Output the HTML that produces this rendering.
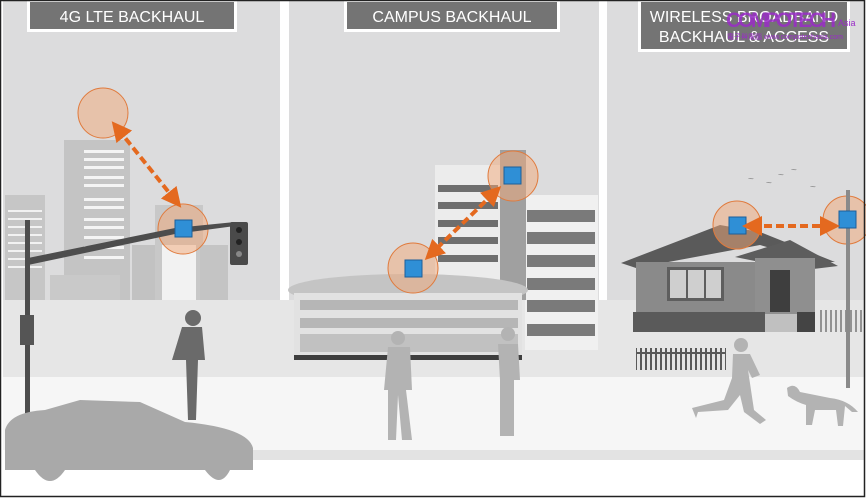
<!DOCTYPE html>
<html><head><style>
html,body{margin:0;padding:0;background:#fff}
svg{display:block}
text{font-family:"Liberation Sans",sans-serif}
</style></head><body>
<svg width="866" height="499" viewBox="0 0 866 499" xmlns="http://www.w3.org/2000/svg">
<defs>
<marker id="ah" markerWidth="5" markerHeight="5" refX="2.5" refY="2.5" orient="auto-start-reverse" markerUnits="strokeWidth"><path d="M0,0 L5,2.5 L0,5 z" fill="#e4691f"/></marker>
<pattern id="fence" width="5" height="22" patternUnits="userSpaceOnUse"><rect width="2" height="22" fill="#5a5a5a"/></pattern>
</defs>
<rect width="866" height="499" fill="#fff"/>
<rect x="3" y="0" width="277" height="305" fill="#dcdcdd"/>
<rect x="289" y="0" width="310" height="305" fill="#dcdcdd"/>
<rect x="607" y="0" width="257" height="305" fill="#dcdcdd"/>
<rect x="3" y="300" width="861" height="78" fill="#e6e6e6"/>
<rect x="3" y="377" width="861" height="73" fill="#f6f6f6"/>
<rect x="150" y="450" width="714" height="10" fill="#e3e3e3"/>
<rect x="27" y="1" width="210" height="31" fill="#fff"/>
<rect x="30" y="2" width="204" height="27" fill="#747474"/>
<text x="132" y="22" font-size="16" fill="#fff" text-anchor="middle">4G LTE BACKHAUL</text>
<rect x="344" y="1" width="216" height="31" fill="#fff"/>
<rect x="347" y="2" width="210" height="27" fill="#747474"/>
<text x="452" y="22" font-size="16" fill="#fff" text-anchor="middle">CAMPUS BACKHAUL</text>
<rect x="638" y="1" width="212" height="51" fill="#fff"/>
<rect x="641" y="2" width="206" height="47" fill="#747474"/>
<text x="744" y="22" font-size="16" fill="#fff" text-anchor="middle">WIRELESS BROADBAND</text>
<text x="744" y="42" font-size="16" fill="#fff" text-anchor="middle">BACKHAUL &amp; ACCESS</text>
<text x="726" y="27" font-size="21" font-weight="bold" fill="#9a2cc8" opacity="0.85" textLength="110">COMPOTECH</text>
<text x="838" y="26" font-size="9" fill="#9a2cc8">Asia</text>
<text x="727" y="39" font-size="7" fill="#9a2cc8">電子與電腦 www.compotechasia.com</text>

<rect x="5" y="195" width="40" height="105" fill="#c6c6c6"/>
<g fill="#f2f2f2"><rect x="8" y="210" width="34" height="2"/><rect x="8" y="218" width="34" height="2"/><rect x="8" y="226" width="34" height="2"/><rect x="8" y="234" width="34" height="2"/><rect x="8" y="242" width="34" height="2"/><rect x="8" y="250" width="34" height="2"/><rect x="8" y="258" width="34" height="2"/><rect x="8" y="266" width="34" height="2"/></g>
<rect x="64" y="140" width="66" height="160" fill="#c4c4c4"/>
<g fill="#f4f4f4">
<rect x="84" y="150" width="40" height="3"/><rect x="84" y="158" width="40" height="3"/><rect x="84" y="166" width="40" height="3"/><rect x="84" y="176" width="40" height="3"/><rect x="84" y="184" width="40" height="3"/><rect x="84" y="198" width="40" height="3"/><rect x="84" y="206" width="40" height="3"/><rect x="84" y="218" width="40" height="3"/><rect x="84" y="226" width="40" height="3"/><rect x="84" y="236" width="40" height="3"/><rect x="84" y="246" width="40" height="3"/><rect x="84" y="256" width="40" height="3"/></g>
<rect x="50" y="275" width="70" height="25" fill="#c9c9c9"/>
<rect x="132" y="245" width="30" height="55" fill="#c2c2c2"/>
<rect x="155" y="205" width="48" height="95" fill="#c8c8c8"/>
<rect x="162" y="245" width="34" height="55" fill="#f2f2f2"/>
<rect x="200" y="245" width="28" height="55" fill="#c4c4c4"/>
<circle cx="103" cy="113" r="25" fill="#f2a878" fill-opacity="0.5" stroke="#e07a3c"/>
<circle cx="183" cy="229" r="25" fill="#f2a878" fill-opacity="0.5" stroke="#e07a3c"/>
<rect x="25" y="220" width="5" height="200" fill="#4d4d4d"/>
<path d="M28,258 L175,228 L235,222 L235,226 L175,234 L28,265 z" fill="#4d4d4d"/>
<rect x="230" y="222" width="18" height="43" rx="2" fill="#4a4a4a"/>
<circle cx="239" cy="230" r="3" fill="#222"/><circle cx="239" cy="242" r="3" fill="#222"/><circle cx="239" cy="254" r="3" fill="#888"/>
<rect x="20" y="315" width="14" height="30" fill="#555"/>
<rect x="175" y="220" width="17" height="17" fill="#2f8fd6" stroke="#1c5f99"/>
<line x1="118" y1="129" x2="175" y2="200" stroke="#e4691f" stroke-width="4" stroke-dasharray="8,4" marker-start="url(#ah)" marker-end="url(#ah)"/>

<rect x="525" y="195" width="73" height="155" fill="#f0f0f0"/>
<g fill="#7a7a7a"><rect x="527" y="210" width="68" height="12"/><rect x="527" y="232" width="68" height="12"/><rect x="527" y="255" width="68" height="12"/><rect x="527" y="278" width="68" height="12"/><rect x="527" y="300" width="68" height="12"/><rect x="527" y="324" width="68" height="12"/></g>
<rect x="435" y="165" width="70" height="135" fill="#ececec"/>
<g fill="#6e6e6e"><rect x="438" y="185" width="60" height="7"/><rect x="438" y="202" width="60" height="7"/><rect x="438" y="220" width="60" height="7"/><rect x="438" y="237" width="60" height="7"/><rect x="438" y="255" width="60" height="7"/></g>
<rect x="500" y="150" width="26" height="150" fill="#a0a0a0"/>
<ellipse cx="408" cy="290" rx="120" ry="16" fill="#c4c4c4"/>
<rect x="294" y="293" width="228" height="62" fill="#e2e2e2"/>
<g fill="#9a9a9a">
<rect x="300" y="300" width="218" height="10" opacity="0.6"/><rect x="300" y="318" width="218" height="10" opacity="0.6"/><rect x="300" y="334" width="218" height="18" opacity="0.45"/></g>
<rect x="294" y="355" width="228" height="5" fill="#3e3e3e"/>
<circle cx="413" cy="268" r="25" fill="#f2a878" fill-opacity="0.5" stroke="#e07a3c"/>
<circle cx="513" cy="176" r="25" fill="#f2a878" fill-opacity="0.5" stroke="#e07a3c"/>
<rect x="405" y="260" width="17" height="17" fill="#2f8fd6" stroke="#1c5f99"/>
<rect x="504" y="167" width="17" height="17" fill="#2f8fd6" stroke="#1c5f99"/>
<line x1="494" y1="193" x2="432" y2="253" stroke="#e4691f" stroke-width="4" stroke-dasharray="8,4" marker-start="url(#ah)" marker-end="url(#ah)"/>

<path d="M621,263 L720,225 L760,232 L835,262 L820,262 L760,245 L636,268 z" fill="#5a5a5a"/>
<rect x="636" y="262" width="125" height="52" fill="#8a8a8a"/>
<path d="M735,257 L790,240 L838,266 L805,270 L760,262 z" fill="#5d5d5d"/>
<rect x="755" y="258" width="60" height="56" fill="#8f8f8f"/>
<rect x="667" y="267" width="57" height="34" fill="#5e5e5e"/>
<rect x="670" y="270" width="16" height="28" fill="#cfcfcf"/><rect x="688" y="270" width="16" height="28" fill="#cfcfcf"/><rect x="706" y="270" width="15" height="28" fill="#cfcfcf"/>
<rect x="770" y="270" width="20" height="42" fill="#3e3e3e"/>
<rect x="633" y="312" width="132" height="20" fill="#5a5a5a"/>
<rect x="765" y="314" width="32" height="18" fill="#c0c0c0"/>
<rect x="797" y="312" width="18" height="20" fill="#444"/>
<rect x="818" y="310" width="44" height="22" fill="url(#fence)" opacity="0.6"/>
<rect x="636" y="348" width="90" height="22" fill="url(#fence)"/>
<rect x="636" y="352" width="90" height="2" fill="#5a5a5a"/>
<circle cx="737" cy="225" r="24" fill="#f2a878" fill-opacity="0.5" stroke="#e07a3c"/>
<circle cx="847" cy="220" r="24" fill="#f2a878" fill-opacity="0.5" stroke="#e07a3c"/>
<rect x="846" y="190" width="4" height="198" fill="#8a8a8a"/>
<rect x="729" y="217" width="17" height="17" fill="#2f8fd6" stroke="#1c5f99"/>
<rect x="839" y="211" width="17" height="17" fill="#2f8fd6" stroke="#1c5f99"/>
<line x1="752" y1="226" x2="830" y2="226" stroke="#e4691f" stroke-width="4" stroke-dasharray="8,4" marker-start="url(#ah)" marker-end="url(#ah)"/>
<g fill="#888" font-size="10"><text x="748" y="182">~</text><text x="766" y="186">~</text><text x="778" y="178">~</text><text x="791" y="173">~</text><text x="810" y="190">~</text></g>

<g fill="#6a6a6a">
<circle cx="193" cy="318" r="8"/>
<path d="M182,327 L202,327 L205,360 L198,360 L196,420 L188,420 L186,360 L172,360 z"/>
</g>
<g fill="#b3b3b3">
<circle cx="398" cy="338" r="7"/><path d="M388,347 L410,347 L412,390 L406,390 L412,440 L402,440 L398,395 L396,440 L388,440 L388,390 L384,390 z"/>
<circle cx="508" cy="334" r="7"/><path d="M498,344 L518,344 L520,380 L514,380 L514,436 L500,436 L500,380 z"/>
<circle cx="741" cy="345" r="7"/><path d="M733,354 L750,354 L760,375 L752,378 L748,370 L754,410 L766,420 L760,424 L744,412 L740,395 L728,410 L698,412 L696,418 L692,408 L724,400 L732,378 z"/>
<path d="M787,388 Q795,382 800,392 L830,398 Q848,400 858,412 L852,412 L845,406 L843,426 L838,426 L836,410 L815,410 L812,425 L806,425 L806,405 Q796,402 788,396 z"/>
</g>
<path d="M5,430 Q10,412 45,410 L80,400 L140,402 L185,422 Q248,428 253,448 L253,470 L230,470 Q220,490 205,470 L65,470 Q50,492 35,470 L5,470 z" fill="#a9a9a9"/>
<rect x="0.5" y="0.5" width="864" height="496" fill="none" stroke="#222" stroke-width="1.5"/>
</svg>
</body></html>
